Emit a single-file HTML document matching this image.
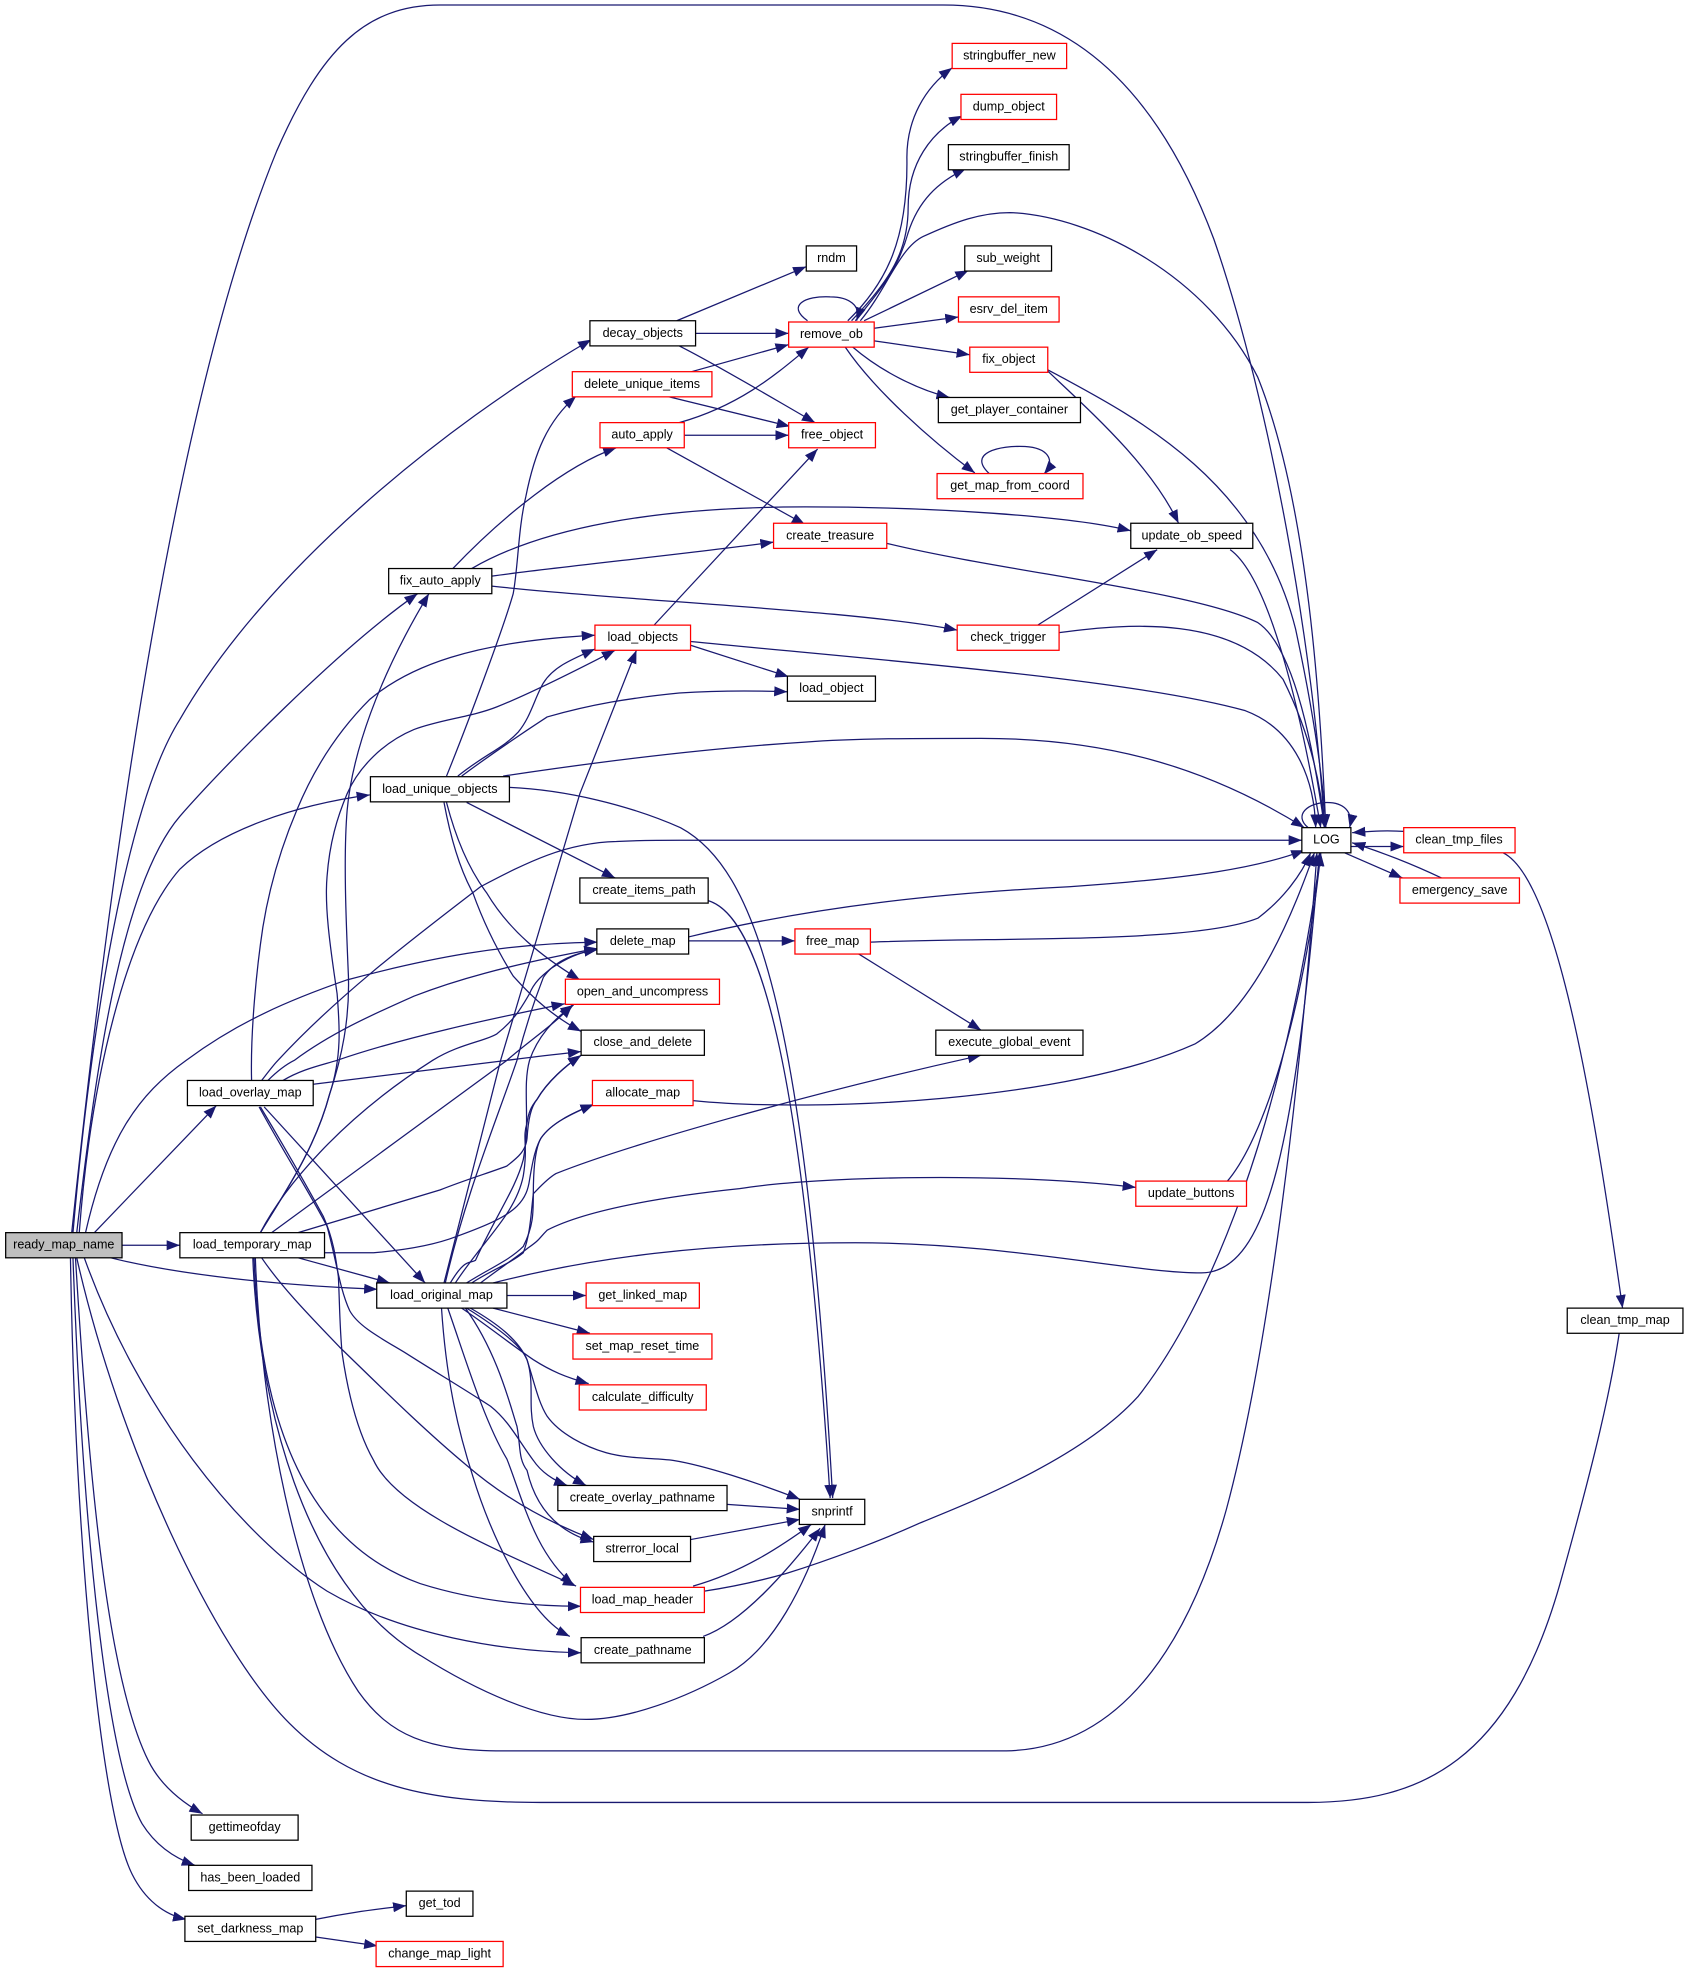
<!DOCTYPE html>
<html><head><meta charset="utf-8"><style>
html,body{margin:0;padding:0;background:#fff}
svg{display:block}
.e path{fill:none;stroke:#191970;stroke-width:1;marker-end:url(#a)}
.n rect{fill:#fff;stroke:#000;stroke-width:1}
.n rect.r{stroke:#f00}
.n text{font-family:"Liberation Sans",sans-serif;font-size:10px;text-anchor:middle;fill:#000;transform:translateY(-0.5px)}
</style></head><body>
<svg xmlns="http://www.w3.org/2000/svg" width="1688" height="1973" viewBox="0 0 1342 1568.6">
<defs><marker id="a" markerUnits="userSpaceOnUse" markerWidth="13" markerHeight="10" refX="10.5" refY="4.5" orient="auto"><path d="M0,0.5 L10.5,4.5 L0,8.5 z" fill="#191970"/></marker></defs>
<g class="e">
<!-- ready_map_name -->
<path d="M57,980 C80,760 130,340 220,120 C255,40 290,4 350,4 L750,4 C850,4 920,70 965,190 C1010,320 1045,520 1053,658"/>
<path d="M58,980 C72,820 100,640 143,572 C210,455 350,340 470,270"/>
<path d="M61,980 C75,860 95,705 143,649 C176,611 270,515 332,472"/>
<path d="M63,980 C72,860 100,740 143,691 C175,660 235,640 294,632"/>
<path d="M68,980 C85,905 110,870 148,843 C190,812 230,795 276,779 C340,762 400,750 475,749"/>
<path d="M75,980 L172,879"/>
<path d="M97,990 L143,990"/>
<path d="M88,1000 C140,1013 220,1022 300,1025"/>
<path d="M67,1000 C110,1120 190,1220 260,1265 C320,1300 400,1313 462,1314"/>
<path d="M61,1000 C95,1150 170,1310 230,1370 C280,1420 340,1433 430,1433 L1040,1433 C1130,1433 1200,1400 1240,1260 C1265,1170 1283,1100 1290,1040"/>
<path d="M60,1000 C72,1200 88,1340 118,1400 C128,1420 145,1433 161,1442"/>
<path d="M58,1000 C66,1220 85,1400 113,1450 C123,1466 138,1477 155,1483"/>
<path d="M56,1000 C60,1230 80,1440 105,1490 C115,1510 130,1522 148,1526"/>
<!-- decay_objects -->
<path d="M538,255 L641,212"/>
<path d="M553,265 L627,265"/>
<path d="M540,275 C570,290 620,320 648,336"/>
<!-- remove_ob -->
<path d="M642,255 C625,243 640,235 660,236 C675,236 685,243 681,255"/>
<path d="M674,255 C705,225 722,190 721,125 C721,95 735,70 757,54"/>
<path d="M677,255 C708,222 722,200 722,165 C722,130 740,105 765,92"/>
<path d="M680,255 C705,225 715,210 722,185 C730,160 745,145 768,134"/>
<path d="M684,255 C705,230 715,197 734,188 C760,176 780,169 803,169 C870,172 960,220 1000,300 C1040,400 1050,560 1054,658"/>
<path d="M687,255 L770,215"/>
<path d="M695,261 L762,252"/>
<path d="M695,271 L771,282"/>
<path d="M678,276 C700,295 730,310 755,316"/>
<path d="M672,276 C695,310 740,350 775,376"/>
<path d="M787,377 C768,360 795,354 815,355 C832,356 840,365 830,377"/>
<!-- fix_object -->
<path d="M833,294 C900,330 1000,380 1030,500 C1045,570 1052,620 1054,658"/>
<path d="M833,295 C870,330 915,370 937,416"/>
<path d="M978,437 C1010,460 1035,570 1050,658"/>
<!-- delete_unique_items / auto_apply -->
<path d="M548,296 L627,274"/>
<path d="M530,315 L628,339"/>
<path d="M540,336 C590,322 620,295 643,276"/>
<path d="M544,346 L627,346"/>
<path d="M530,356 L640,417"/>
<path d="M705,432 C800,455 950,470 1000,495 C1030,515 1045,600 1053,658"/>
<!-- fix_auto_apply -->
<path d="M360,452 C400,410 450,370 490,356"/>
<path d="M375,452 C430,420 520,403 640,403 C740,403 850,410 899,422"/>
<path d="M391,458 C450,450 550,440 615,431"/>
<path d="M391,466 C500,478 680,485 761,501"/>
<path d="M825,497 L920,437"/>
<path d="M842,503 C900,495 980,490 1020,540 C1040,580 1050,620 1053,658"/>
<!-- load_objects -->
<path d="M520,497 L650,357"/>
<path d="M549,513 L627,538"/>
<path d="M549,510 C700,525 900,540 990,565 C1030,580 1045,620 1046,658"/>
<!-- load_unique_objects -->
<path d="M355,617 C372,575 400,500 408,472 C412,450 412,420 418,395 C425,360 435,335 458,315"/>
<path d="M364,617 C385,600 400,595 412,582 C422,570 425,555 432,543 C440,530 455,524 473,516"/>
<path d="M367,617 C390,600 412,585 435,570 C470,560 500,555 540,551 C570,549 600,549 626,550"/>
<path d="M400,617 C480,605 560,595 640,590 C680,587 730,587 780,587 C880,587 960,610 1037,658"/>
<path d="M405,626 C450,628 500,640 541,658 C600,690 640,800 662,1191"/>
<path d="M371,638 L489,698"/>
<path d="M355,638 C362,665 372,690 387,710 C405,740 430,760 461,779"/>
<path d="M353,638 C358,665 365,690 376,710 C385,735 395,755 408,776 C425,795 440,808 462,820"/>
<path d="M563,716 C610,730 640,880 660,1191"/>
<!-- delete_map / free_map -->
<path d="M547,745 C650,720 750,710 850,705 C950,698 1000,690 1037,676"/>
<path d="M547,748 L632,748"/>
<path d="M692,749 C800,745 950,750 1000,730 C1020,715 1035,695 1042,678"/>
<path d="M682,758 L780,819"/>
<path d="M551,875 C650,885 850,875 950,830 C1000,800 1030,720 1045,678"/>
<path d="M975,940 C1010,900 1040,780 1050,678"/>
<!-- LOG -->
<path d="M1040,658 C1028,648 1040,638 1055,638 C1068,638 1076,645 1073,658"/>
<path d="M1116,661 C1100,660 1090,661 1075,662"/>
<path d="M1074,673 L1116,673"/>
<path d="M1069,678 L1115,698"/>
<path d="M1146,698 C1125,688 1100,678 1075,670"/>
<path d="M1195,678 C1240,700 1270,900 1290,1040"/>
<!-- load_overlay_map -->
<path d="M200,859 C199,820 204,770 209,737 C215,700 225,670 236,644 C250,610 270,580 294,556 C325,530 375,510 473,505"/>
<path d="M208,859 C215,850 218,846 221,843 C270,790 330,745 382,705 C420,685 450,670 490,669 C510,668 520,668 541,668 L1035,668"/>
<path d="M213,859 C222,850 228,846 234,843 C265,820 300,805 329,792 C360,780 400,768 475,754"/>
<path d="M225,859 C240,850 255,847 268,843 C320,825 390,810 449,798"/>
<path d="M249,862 L403,843 C425,840 445,838 462,836"/>
<path d="M210,880 L338,1020"/>
<path d="M207,880 C225,910 245,945 257,967 C265,985 267,1000 269,1015 C270,1035 270,1055 272,1076 C277,1110 285,1140 297,1161 C315,1200 395,1232 458,1261"/>
<path d="M206,880 C225,915 250,955 260,975 C267,1000 270,1025 278,1042 C285,1055 305,1065 323,1076 C345,1090 370,1105 390,1118 C405,1130 412,1145 424,1161 C430,1170 440,1177 451,1181"/>
<!-- load_temporary_map -->
<path d="M207,980 C225,950 250,915 262,870 C272,840 278,810 277,776 C275,730 273,680 276,644 C280,600 300,540 341,472"/>
<path d="M207,980 C225,950 250,915 262,870 C272,840 270,815 268,790 C262,750 258,720 260,697 C262,670 268,650 276,631 C285,610 305,590 329,580 C350,572 375,570 395,562 C420,552 460,532 489,517"/>
<path d="M207,980 C225,945 270,890 344,843 C365,830 385,828 395,822 C410,810 415,800 421,790 C425,780 432,775 438,770 C450,762 460,757 475,755"/>
<path d="M216,980 L403,843 C420,828 440,815 455,799"/>
<path d="M237,980 L350,946 C370,938 390,932 403,927 C412,920 418,915 419,905 C420,890 422,880 427,874 C435,860 450,847 462,839"/>
<path d="M256,996 C270,996 285,996 297,996 C320,994 345,990 363,983 C385,975 402,968 411,959 C418,952 420,945 421,938 C424,920 426,912 430,905 C438,893 455,885 472,878"/>
<path d="M237,1000 L310,1020"/>
<path d="M208,1000 C225,1025 250,1050 270,1071 C300,1100 335,1135 371,1165 C400,1190 435,1210 472,1224"/>
<path d="M202,1000 C205,1090 225,1220 334,1259 C375,1272 420,1277 462,1277"/>
<path d="M201,1000 C205,1110 240,1260 334,1316 C380,1345 430,1367 466,1367 C500,1367 545,1350 580,1330 C615,1310 640,1260 656,1212"/>
<path d="M203,1000 C207,1120 235,1270 285,1345 C310,1380 340,1392 400,1392 L800,1392 C900,1390 950,1290 975,1200 C1010,1070 1035,850 1047,678"/>
<!-- load_original_map -->
<path d="M353,1020 L398,843 L461,631 L506,517"/>
<path d="M354,1020 C370,950 395,890 411,843 C418,815 425,795 432,777 C440,765 455,758 475,755"/>
<path d="M358,1020 C370,1000 373,1005 378,1002 C395,965 410,945 416,922 C422,890 415,865 421,843 C427,825 440,810 456,799"/>
<path d="M362,1020 C385,985 410,965 416,935 C420,910 415,905 419,893 C420,885 422,880 427,874 C435,860 450,847 462,839"/>
<path d="M371,1020 C390,1008 405,1002 416,991 C424,975 424,965 424,949 C424,925 426,912 430,905 C438,893 455,885 472,878"/>
<path d="M375,1020 C390,1010 405,1005 416,996 C422,980 422,965 424,949 C428,945 435,937 442,933 C500,910 640,870 780,839"/>
<path d="M382,1020 C395,1010 410,1000 420,992 C430,985 428,985 435,978 C470,960 540,950 588,945 C650,935 800,932 903,944"/>
<path d="M392,1020 C470,1000 560,988 680,988 C800,988 900,1012 955,1012 C1010,1012 1030,900 1049,678"/>
<path d="M400,1030 L466,1030"/>
<path d="M392,1040 L469,1060"/>
<path d="M367,1040 C385,1052 405,1068 424,1081 C438,1090 450,1095 468,1100"/>
<path d="M371,1040 C395,1055 415,1070 419,1081 C425,1100 420,1115 424,1134 C428,1150 445,1170 466,1181"/>
<path d="M374,1040 C395,1052 412,1065 419,1081 C425,1100 428,1115 435,1126 C445,1140 465,1150 482,1155 C500,1160 520,1159 535,1161 C560,1165 600,1178 636,1192"/>
<path d="M370,1040 C395,1075 405,1115 411,1134 C414,1150 412,1160 419,1169 C425,1195 440,1217 472,1226"/>
<path d="M351,1040 C355,1100 365,1140 376,1174 C390,1220 420,1285 453,1301"/>
<path d="M356,1040 C370,1080 385,1130 403,1160 C415,1190 425,1235 456,1260"/>
<!-- right of paths -->
<path d="M578,1196 L636,1200"/>
<path d="M549,1224 L636,1208"/>
<path d="M551,1261 C590,1250 620,1230 645,1212"/>
<path d="M559,1301 C590,1290 625,1250 652,1215"/>
<path d="M560,1265 C580,1262 600,1258 625,1251 C660,1240 700,1225 731,1211 C770,1195 860,1160 905,1110 C960,1040 1020,900 1050,678"/>
<!-- set_darkness_map -->
<path d="M251,1526 C280,1520 300,1518 323,1515"/>
<path d="M251,1540 L300,1547"/>
</g>
<g class="n">
<rect class="r" x="757" y="34.5" width="91" height="20"/><text x="802.5" y="47.8">stringbuffer_new</text>
<rect class="r" x="764" y="75" width="76" height="20"/><text x="802" y="88.3">dump_object</text>
<rect x="754" y="115" width="96" height="20"/><text x="802" y="128.3">stringbuffer_finish</text>
<rect x="641" y="195.5" width="40" height="20"/><text x="661" y="208.8">rndm</text>
<rect x="767" y="195.5" width="69" height="20"/><text x="801.5" y="208.8">sub_weight</text>
<rect class="r" x="762" y="236" width="80" height="20"/><text x="802" y="249.3">esrv_del_item</text>
<rect class="r" x="627" y="256" width="68" height="20"/><text x="661" y="269.3">remove_ob</text>
<rect x="469" y="255" width="84" height="20"/><text x="511" y="268.3">decay_objects</text>
<rect class="r" x="771" y="276" width="62" height="20"/><text x="802" y="289.3">fix_object</text>
<rect class="r" x="455" y="295.5" width="111" height="20"/><text x="510.5" y="308.8">delete_unique_items</text>
<rect x="746" y="316" width="113" height="20"/><text x="802.5" y="329.3">get_player_container</text>
<rect class="r" x="477" y="336" width="67" height="20"/><text x="510.5" y="349.3">auto_apply</text>
<rect class="r" x="627" y="336" width="69" height="20"/><text x="661.5" y="349.3">free_object</text>
<rect class="r" x="745" y="376.5" width="116" height="20"/><text x="803" y="389.8">get_map_from_coord</text>
<rect class="r" x="615" y="416" width="90" height="20"/><text x="660" y="429.3">create_treasure</text>
<rect x="899" y="416" width="97" height="20"/><text x="947.5" y="429.3">update_ob_speed</text>
<rect x="309" y="452" width="82" height="20"/><text x="350" y="465.3">fix_auto_apply</text>
<rect class="r" x="473" y="497" width="76" height="20"/><text x="511" y="510.3">load_objects</text>
<rect class="r" x="761" y="497" width="81" height="20"/><text x="801.5" y="510.3">check_trigger</text>
<rect x="626" y="537.5" width="70" height="20"/><text x="661" y="550.8">load_object</text>
<rect x="294.5" y="617.5" width="110.5" height="20"/><text x="349.7" y="630.8">load_unique_objects</text>
<rect x="1035" y="658" width="39" height="20"/><text x="1054.5" y="671.3">LOG</text>
<rect class="r" x="1116" y="658" width="88.5" height="20"/><text x="1160" y="671.3">clean_tmp_files</text>
<rect class="r" x="1113" y="698" width="95" height="20"/><text x="1160.5" y="711.3">emergency_save</text>
<rect x="461" y="698" width="102" height="20"/><text x="512" y="711.3">create_items_path</text>
<rect x="474.5" y="738.5" width="73" height="20"/><text x="511" y="751.8">delete_map</text>
<rect class="r" x="632" y="738.5" width="60" height="20"/><text x="662" y="751.8">free_map</text>
<rect class="r" x="449.5" y="778.5" width="122.5" height="20"/><text x="510.8" y="791.8">open_and_uncompress</text>
<rect x="462" y="819" width="98" height="20"/><text x="511" y="832.3">close_and_delete</text>
<rect x="744" y="819" width="117" height="20"/><text x="802.5" y="832.3">execute_global_event</text>
<rect x="149" y="859" width="100" height="20"/><text x="199" y="872.3">load_overlay_map</text>
<rect class="r" x="471" y="859" width="80" height="20"/><text x="511" y="872.3">allocate_map</text>
<rect class="r" x="903" y="939" width="88" height="20"/><text x="947" y="952.3">update_buttons</text>
<rect x="4.5" y="980" width="92.5" height="20" style="fill:#bfbfbf"/><text x="50.7" y="993.3">ready_map_name</text>
<rect x="143" y="980" width="115" height="20"/><text x="200.5" y="993.3">load_temporary_map</text>
<rect x="299.5" y="1020" width="103.5" height="20"/><text x="351" y="1033.3">load_original_map</text>
<rect class="r" x="466" y="1020" width="90" height="20"/><text x="511" y="1033.3">get_linked_map</text>
<rect x="1246" y="1040" width="92" height="20"/><text x="1292" y="1053.3">clean_tmp_map</text>
<rect class="r" x="455.5" y="1060.5" width="110.5" height="20"/><text x="510.7" y="1073.8">set_map_reset_time</text>
<rect class="r" x="460.5" y="1101" width="101" height="20"/><text x="511" y="1114.3">calculate_difficulty</text>
<rect x="443.5" y="1181" width="134.5" height="20"/><text x="510.7" y="1194.3">create_overlay_pathname</text>
<rect x="635.5" y="1192" width="52" height="20"/><text x="661.5" y="1205.3">snprintf</text>
<rect x="472" y="1221.5" width="77" height="20"/><text x="510.5" y="1234.8">strerror_local</text>
<rect class="r" x="461.5" y="1262" width="98.5" height="20"/><text x="510.7" y="1275.3">load_map_header</text>
<rect x="462" y="1302" width="98" height="20"/><text x="511" y="1315.3">create_pathname</text>
<rect x="152" y="1443" width="85" height="20"/><text x="194.5" y="1456.3">gettimeofday</text>
<rect x="150" y="1483" width="98" height="20"/><text x="199" y="1496.3">has_been_loaded</text>
<rect x="147" y="1523.5" width="104" height="20"/><text x="199" y="1536.8">set_darkness_map</text>
<rect x="323" y="1503.5" width="53" height="20"/><text x="349.5" y="1516.8">get_tod</text>
<rect class="r" x="299" y="1543.5" width="101" height="20"/><text x="349.5" y="1556.8">change_map_light</text>
</g>
</svg>
</body></html>
